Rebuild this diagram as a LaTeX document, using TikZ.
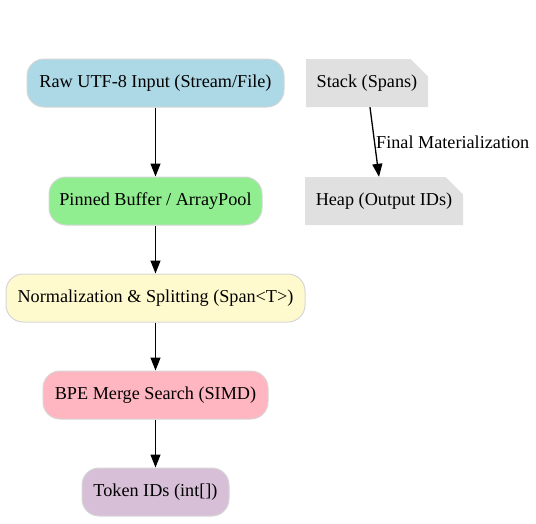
\documentclass[tikz,border=0pt]{standalone}
\usepackage{fontspec}
\setmainfont{Liberation Serif}
\usepackage{xcolor}
\usepackage{tikz}
\usetikzlibrary{arrows.meta}
\usetikzlibrary{shapes.misc}

\definecolor{rawblue}{HTML}{ADD8E6}
\definecolor{bufgreen}{HTML}{90EE90}
\definecolor{normyellow}{HTML}{FFFACD}
\definecolor{bpepink}{HTML}{FFB6C1}
\definecolor{tokthistle}{HTML}{D8BFD8}
\definecolor{memgray}{HTML}{E0E0E0}
\definecolor{edgegray}{HTML}{D6D6D6}

\tikzset{
  stage/.style={draw=edgegray, line width=1pt, rounded corners=17pt,
    minimum height=48pt, inner sep=0pt, font=\fontsize{18.2}{20}\selectfont},
  memory/.style={chamfered rectangle, chamfered rectangle corners=north east,
    chamfered rectangle xsep=9pt, chamfered rectangle ysep=9pt,
    fill=memgray, draw=none, minimum height=48pt, inner sep=0pt,
    font=\fontsize{18.2}{20}\selectfont},
  flow/.style={-{Triangle[length=13pt, width=10pt]}, line width=1.3pt}
}

\begin{document}
\begin{tikzpicture}[x=1pt, y=-1pt]
    \useasboundingbox (0,0) rectangle (536,523);
    % pipeline
    \node[stage, fill=rawblue, minimum width=257pt] (raw) at (155.5,83) {Raw UTF-8 Input (Stream/File)};
    \node[stage, fill=bufgreen, minimum width=213pt] (buffer) at (155.5,201) {Pinned Buffer / ArrayPool};
    \node[stage, fill=normyellow, minimum width=299pt] (norm) at (155.5,298) {Normalization \& Splitting (Span<T>)};
    \node[stage, fill=bpepink, minimum width=225pt] (bpe) at (155.5,395) {BPE Merge Search (SIMD)};
    \node[stage, fill=tokthistle, minimum width=147pt] (tokens) at (155.5,492) {Token IDs (int[])};
    \draw[flow] (raw) -- (buffer);
    \draw[flow] (buffer) -- (norm);
    \draw[flow] (norm) -- (bpe);
    \draw[flow] (bpe) -- (tokens);
    % memory
    \node[memory, minimum width=122pt] (stack) at (367,83) {Stack (Spans)};
    \node[memory, minimum width=158pt] (heap) at (384,201) {Heap (Output IDs)};
    \draw[flow] (stack.south -| 370,0) -- (heap.north -| 379,0)
      node[pos=0.5, right, inner sep=1pt, font=\fontsize{18.2}{20}\selectfont] {Final Materialization};
\end{tikzpicture}
\end{document}
